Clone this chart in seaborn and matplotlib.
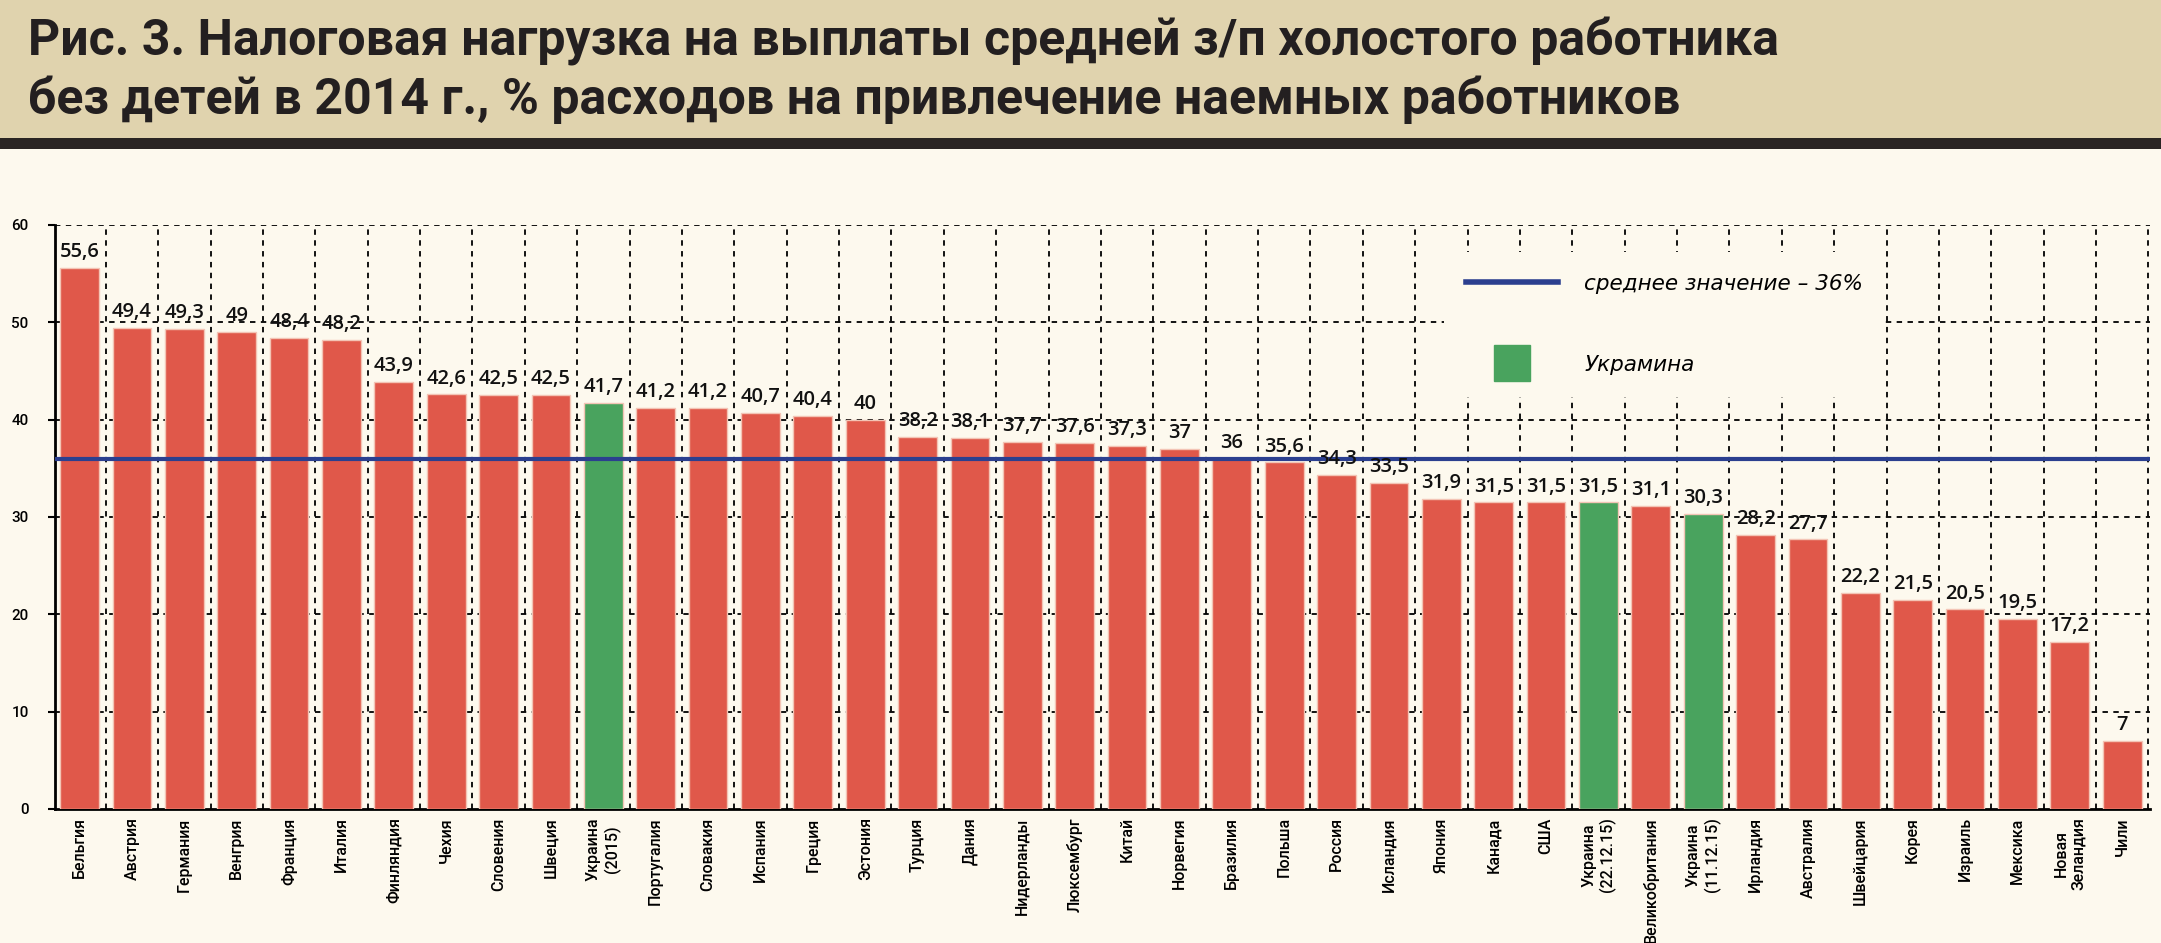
import matplotlib
matplotlib.use('Agg')
import matplotlib.pyplot as plt
from matplotlib.lines import Line2D
import seaborn as sns
import pandas as pd

countries = ['Бельгия', 'Австрия', 'Германия', 'Венгрия', 'Франция', 'Италия',
             'Финляндия', 'Чехия', 'Словения', 'Швеция', 'Украина\n(2015)',
             'Португалия', 'Словакия', 'Испания', 'Греция', 'Эстония', 'Турция',
             'Дания', 'Нидерланды', 'Люксембург', 'Китай', 'Норвегия', 'Бразилия',
             'Польша', 'Россия', 'Исландия', 'Япония', 'Канада', 'США',
             'Украина\n(22.12.15)', 'Великобритания', 'Украина\n(11.12.15)',
             'Ирландия', 'Австралия', 'Швейцария', 'Корея', 'Израиль', 'Мексика',
             'Новая\nЗеландия', 'Чили']
tax_burden = [55.6, 49.4, 49.3, 49, 48.4, 48.2, 43.9, 42.6, 42.5, 42.5, 41.7,
              41.2, 41.2, 40.7, 40.4, 40, 38.2, 38.1, 37.7, 37.6, 37.3, 37, 36,
              35.6, 34.3, 33.5, 31.9, 31.5, 31.5, 31.5, 31.1, 30.3, 28.2, 27.7,
              22.2, 21.5, 20.5, 19.5, 17.2, 7]
mean_value = 36

RED = '#e0584a'
GREEN = '#49a35e'
BLUE = '#2b3f8f'
BG = '#fdf9ee'
BEIGE = '#e0d3ae'

df = pd.DataFrame({'country': countries, 'value': tax_burden})
colors = [GREEN if c.startswith('Украина') else RED for c in countries]

fig = plt.figure(figsize=(21.61, 9.43), dpi=100, facecolor=BG)

# title band
fig.patches.append(plt.Rectangle((0, 1 - 138 / 943), 1, 138 / 943, transform=fig.transFigure,
                                 facecolor=BEIGE, edgecolor='none', zorder=0))
fig.patches.append(plt.Rectangle((0, 1 - 149 / 943), 1, 11 / 943, transform=fig.transFigure,
                                 facecolor='#2a2523', edgecolor='none', zorder=0))
title_font = dict(fontsize=36, fontweight='bold', va='center', ha='left', color='#231f20',
                  family=['Roboto', 'DejaVu Sans'])
fig.text(28 / 2161, 1 - 42 / 943, 'Рис. 3. Налоговая нагрузка на выплаты средней з/п холостого работника',
         **title_font)
fig.text(28 / 2161, 1 - 100 / 943, 'без детей в 2014 г., % расходов на привлечение наемных работников',
         **title_font)

ax = fig.add_axes([55 / 2161, 134 / 943, 2095 / 2161, 584 / 943])
ax.set_facecolor(BG)

sns.barplot(data=df, x='country', y='value', hue='country', palette=colors, saturation=1,
            legend=False, width=0.74, edgecolor='#f3c4b5', linewidth=1, ax=ax, zorder=3)

ax.set_xlim(-0.47, len(countries) - 0.47)
ax.set_ylim(0, 60)
ax.set_yticks(range(0, 61, 10))

# dotted grid: horizontal at ticks, vertical between bars
for y in range(10, 61, 10):
    ax.axhline(y, color='black', linestyle=(0, (3, 3)), linewidth=1.3, zorder=1)
for i in range(len(countries)):
    ax.axvline(i + 0.5, color='black', linestyle=(0, (3, 3)), linewidth=1.3, zorder=1)

ax.axhline(mean_value, color=BLUE, linewidth=3, zorder=4)

for i, v in enumerate(tax_burden):
    txt = f'{v:g}'.replace('.', ',')
    ax.text(i, v + 0.6, txt, ha='center', va='bottom', fontsize=14.5, fontweight='semibold',
            color='#111111', zorder=5, family=['Open Sans', 'DejaVu Sans'])

for s in ['top', 'right']:
    ax.spines[s].set_visible(False)
ax.spines['left'].set_linewidth(2)
ax.spines['bottom'].set_linewidth(2)
ax.tick_params(axis='y', labelsize=11, length=5, width=1.5, pad=14)
ax.tick_params(axis='x', labelsize=11.5, length=0, rotation=90, pad=6)
for lbl in ax.get_xticklabels() + ax.get_yticklabels():
    lbl.set_fontweight('medium')
    lbl.set_family(['Roboto', 'DejaVu Sans'])
ax.set_xlabel('')
ax.set_ylabel('')

handles = [Line2D([], [], color=BLUE, linewidth=4),
           Line2D([], [], color=GREEN, marker='s', linestyle='none', markersize=26)]
leg = ax.legend(handles, ['среднее значение – 36%', 'Украмина'],
                loc='upper left', bbox_to_anchor=(0.658, 0.972),
                frameon=True, facecolor=BG, edgecolor='none', framealpha=1,
                handlelength=4.3, handletextpad=1.2, labelspacing=2.85,
                borderpad=1.0, prop={'size': 15.5, 'style': 'italic'})
leg.set_zorder(6)

fig.savefig('out.png', dpi=100, facecolor=BG)
